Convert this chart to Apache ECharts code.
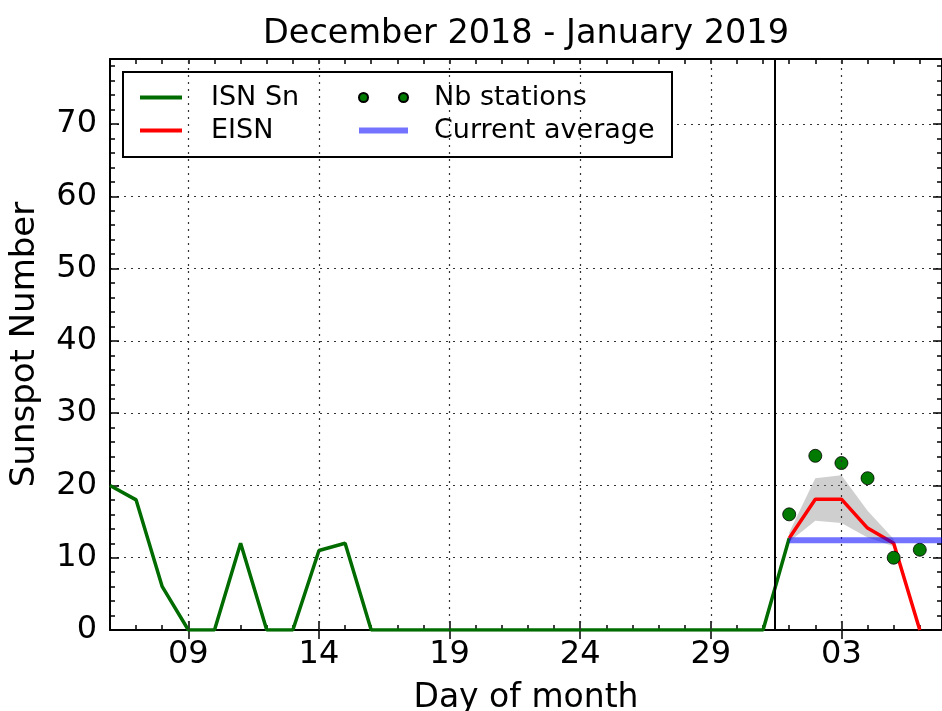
<!DOCTYPE html>
<html>
<head>
<meta charset="utf-8">
<script src="https://cdn.jsdelivr.net/npm/echarts@6/dist/echarts.min.js"></script>
<style>html,body{margin:0;padding:0;background:#fff}#chart{width:942px;height:711px}</style>
</head>
<body>
<div id="chart"></div>
<script>
// x = day index (Dec 6 = 6, Dec 31 = 31, Jan 1 = 32, ... Jan 7 = 38)
const isnX = [6,7,8,9,10,11,12,13,14,15,16,17,18,19,20,21,22,23,24,25,26,27,28,29,30,31,32];
const isnValues = [20,18,6,0,0,12,0,0,11,12,0,0,0,0,0,0,0,0,0,0,0,0,0,0,0,0,12.7];
const eisnX = [32,33,34,35,36,37];
const eisnValues = [12.7,18.1,18.1,14.1,12.0,0];
const bandX = [32,33,34,35,36];
const bandUpper = [13.5,21.0,21.4,16.5,12.6];
const bandLower = [12.2,15.1,14.8,12.8,11.6];
const stationsX = [32,33,34,35,36,37];
const stationsValues = [16.0,24.1,23.1,21.0,10.0,11.1];
const avgX = [32,38];
const currentAverage = 12.4;
const nowX = 31.46;
const xTickValues = [9,14,19,24,29,34];
const xTickLabels = ['09','14','19','24','29','03'];
const yTickValues = [0,10,20,30,40,50,60,70];

const FONT = 'DejaVu Sans';
const X_MIN = 6, X_MAX = 37.85, Y_MIN = 0, Y_MAX = 79;
const pair = (xs, ys) => xs.map((x, i) => [x, ys[i]]);

const chart = echarts.init(document.getElementById('chart'), null, {renderer: 'canvas'});

const baseX = {type: 'value', min: X_MIN, max: X_MAX, splitLine: {show: false}};
const baseY = {type: 'value', min: Y_MIN, max: Y_MAX, splitLine: {show: false}};
const axisLine = {show: true, onZero: false, lineStyle: {color: '#000', width: 2}};
const tickLine = {color: '#000', width: 1.5};
const gridDot = {color: '#333', width: 1.2, type: [2, 5]};

const option = {
  animation: false,
  backgroundColor: '#fff',
  title: {
    text: 'December 2018 - January 2019',
    left: 526, top: 17, padding: 0, textAlign: 'center',
    textStyle: {fontFamily: FONT, fontSize: 33.5, fontWeight: 'normal', color: '#000'}
  },
  grid: {left: 110, right: 0, top: 59, bottom: 81, containLabel: false, outerBoundsMode: 'none'},
  legend: [
    {
      data: [
        {name: 'ISN Sn', icon: 'path://M0,0H42V4H0Z'},
        {name: 'EISN', icon: 'path://M0,0H42V4H0Z'}
      ],
      orient: 'vertical', left: 140, top: 84, padding: 0,
      itemWidth: 42, itemHeight: 26, itemGap: 6, selectedMode: false,
      textStyle: {fontFamily: FONT, fontSize: 27, lineHeight: 26, color: '#000', padding: [0,0,0,24]}
    },
    {
      data: [
        {name: 'Nb stations', icon: 'path://M0,4.5a4.5,4.5 0 1,0 9,0a4.5,4.5 0 1,0 -9,0M40,4.5a4.5,4.5 0 1,0 9,0a4.5,4.5 0 1,0 -9,0'},
        {name: 'Current average', icon: 'path://M0,0H48V6H0Z'}
      ],
      orient: 'vertical', left: 358, top: 84, padding: 0,
      itemWidth: 49, itemHeight: 26, itemGap: 6, selectedMode: false,
      textStyle: {fontFamily: FONT, fontSize: 27, lineHeight: 26, color: '#000', padding: [0,0,0,21]}
    }
  ],
  graphic: [{
    type: 'rect', z: 3, silent: true,
    shape: {x: 123, y: 72, width: 549, height: 85},
    style: {fill: '#fff', stroke: '#000', lineWidth: 2}
  }],
  xAxis: [
    Object.assign({}, baseX, {position: 'bottom', interval: 1,
      name: 'Day of month', nameLocation: 'middle', nameGap: 52,
      nameTextStyle: {fontFamily: FONT, fontSize: 33, color: '#000'},
      axisLine: axisLine, axisTick: {show: true, inside: true, length: 5, lineStyle: tickLine},
      axisLabel: {show: false}}),
    Object.assign({}, baseX, {position: 'bottom',
      axisLine: {show: false},
      axisTick: {show: true, inside: true, length: 9, customValues: xTickValues, lineStyle: tickLine},
      axisLabel: {show: true, customValues: xTickValues, margin: 9,
        fontFamily: FONT, fontSize: 32, color: '#000',
        formatter: v => { const i = xTickValues.indexOf(v); return i >= 0 ? xTickLabels[i] : ''; }}}),
    Object.assign({}, baseX, {position: 'top', interval: 1,
      axisLine: axisLine, axisTick: {show: true, inside: true, length: 5, lineStyle: tickLine},
      axisLabel: {show: false}}),
    Object.assign({}, baseX, {position: 'top',
      axisLine: {show: false},
      axisTick: {show: true, inside: true, length: 9, customValues: xTickValues, lineStyle: tickLine},
      axisLabel: {show: false}})
  ],
  yAxis: [
    Object.assign({}, baseY, {position: 'left', interval: 10,
      name: 'Sunspot Number', nameLocation: 'middle', nameGap: 68, nameRotate: 90,
      nameTextStyle: {fontFamily: FONT, fontSize: 34, color: '#000'},
      axisLine: axisLine,
      axisTick: {show: true, inside: true, length: 9, lineStyle: tickLine},
      axisLabel: {show: true, margin: 13, fontFamily: FONT, fontSize: 32, color: '#000',
        formatter: v => (yTickValues.indexOf(v) >= 0 ? String(v) : '')},
      splitLine: {show: true, lineStyle: gridDot}}),
    Object.assign({}, baseY, {position: 'left', interval: 2,
      axisLine: {show: false},
      axisTick: {show: true, inside: true, length: 5, lineStyle: tickLine},
      axisLabel: {show: false}}),
    Object.assign({}, baseY, {position: 'right', interval: 10,
      axisLine: axisLine,
      axisTick: {show: true, inside: true, length: 9, lineStyle: tickLine},
      axisLabel: {show: false}}),
    Object.assign({}, baseY, {position: 'right', interval: 2,
      axisLine: {show: false},
      axisTick: {show: true, inside: true, length: 5, lineStyle: tickLine},
      axisLabel: {show: false}})
  ],
  series: [
    {
      name: 'EISN range', type: 'custom', z: 1, silent: true,
      data: [[bandX[0], bandUpper[0]]],
      renderItem: (params, api) => {
        const top = bandX.map((x, i) => api.coord([x, bandUpper[i]]));
        const bottom = bandX.map((x, i) => api.coord([x, bandLower[i]])).reverse();
        return {type: 'polygon', shape: {points: top.concat(bottom)},
          style: {fill: 'rgba(128,128,128,0.38)', stroke: 'none'}};
      }
    },
    {
      name: 'ISN Sn', type: 'line', z: 3, data: pair(isnX, isnValues), symbol: 'none',
      lineStyle: {color: '#006c00', width: 3.5}, itemStyle: {color: '#006c00'},
      markLine: {
        silent: true, symbol: 'none', label: {show: false},
        data: xTickValues.map(v => ({xAxis: v, lineStyle: gridDot}))
          .concat([{xAxis: nowX, lineStyle: {color: '#000', width: 2, type: 'solid'}}])
      }
    },
    {
      name: 'EISN', type: 'line', z: 3, data: pair(eisnX, eisnValues), symbol: 'none',
      lineStyle: {color: '#ff0000', width: 3.5}, itemStyle: {color: '#ff0000'}
    },
    {
      name: 'Nb stations', type: 'scatter', z: 4, data: pair(stationsX, stationsValues),
      symbol: 'circle', symbolSize: 13,
      itemStyle: {color: '#007a00', borderColor: '#000', borderWidth: 0.8, opacity: 1}
    },
    {
      name: 'Current average', type: 'line', z: 5, data: avgX.map(x => [x, currentAverage]), symbol: 'none',
      lineStyle: {color: 'rgba(0,0,255,0.55)', width: 6}, itemStyle: {color: 'rgba(0,0,255,0.55)'}
    }
  ]
};
chart.setOption(option);
</script>
</body>
</html>
